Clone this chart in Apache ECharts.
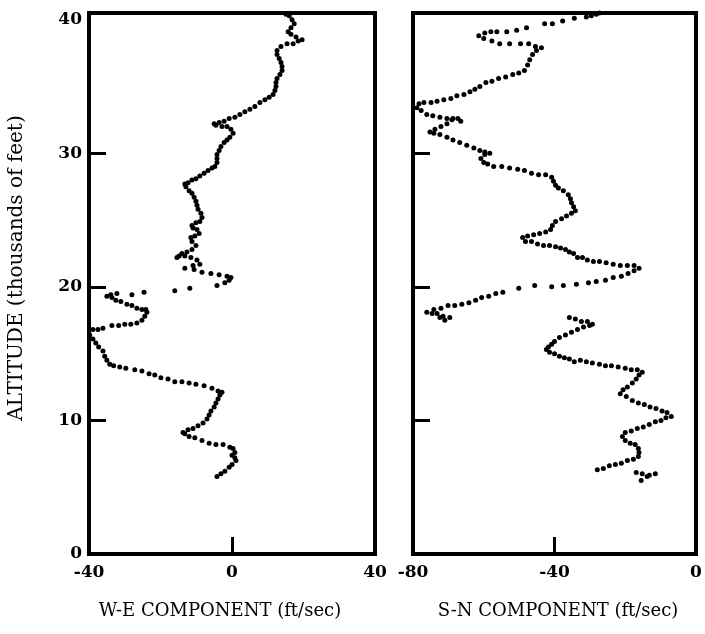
<!DOCTYPE html>
<html>
<head>
<meta charset="utf-8">
<script src="https://cdn.jsdelivr.net/npm/echarts@6/dist/echarts.min.js"></script>
<style>
  html, body { margin: 0; padding: 0; background: #fff; }
  #chart { width: 705px; height: 634px; }
</style>
</head>
<body>
<div id="chart"></div>
<script>
// Wind-component profiles: [component (ft/sec), altitude (thousands of feet)]
const weProfile = [
  [-4.2,5.8],[-3.1,6.0],[-2.0,6.2],[-0.8,6.5],[0.0,6.7],[1.1,7.0],[0.8,7.2],[0.0,7.4],[0.8,7.6],[0.3,7.9],[-0.6,8.0],
  [-2.5,8.2],[-4.5,8.2],[-6.4,8.3],[-8.4,8.5],[-10.4,8.7],[-12.0,8.8],[-13.2,9.0],[-13.7,9.1],
  [-12.3,9.3],[-10.9,9.4],[-9.5,9.6],[-8.1,9.8],[-7.0,10.1],[-6.4,10.4],[-5.9,10.7],[-5.0,11.0],[-4.5,11.3],[-3.9,11.6],[-3.4,11.9],[-2.8,12.1],
  [-3.9,12.2],[-5.6,12.4],[-7.8,12.6],[-10.1,12.7],[-12.0,12.8],[-14.0,12.9],[-16.0,12.9],[-17.9,13.1],[-19.9,13.2],[-21.6,13.4],[-23.2,13.5],[-25.2,13.7],[-27.2,13.8],
  [-29.7,13.9],[-31.4,14.0],[-33.1,14.1],[-34.2,14.2],[-35.0,14.5],[-35.6,14.8],[-36.1,15.2],[-37.3,15.5],[-38.1,15.8],[-38.9,16.1],[-39.8,16.4],[-40.1,16.6],
  [-38.9,16.8],[-37.5,16.8],[-36.1,16.9],[-33.6,17.1],[-31.7,17.1],[-30.0,17.2],[-28.3,17.2],[-26.6,17.3],[-25.2,17.5],[-24.4,17.8],[-23.8,18.1],
  [-24.1,18.3],[-25.2,18.3],[-26.6,18.4],[-28.0,18.6],[-29.4,18.7],[-31.1,18.9],[-32.5,19.0],[-33.6,19.2],[-35.0,19.3],
  [-33.9,19.4],[-32.2,19.5],[-28.0,19.4],[-24.6,19.6],[-16.0,19.7],[-11.8,19.9],[-4.2,20.1],[-2.0,20.3],[-0.8,20.5],[-0.3,20.7],
  [-1.4,20.8],[-3.6,20.9],[-5.9,21.0],[-8.4,21.1],[-10.6,21.3],[-13.2,21.4],
  [-10.9,21.6],[-9.0,21.7],[-9.8,22.0],[-11.5,22.2],[-13.2,22.3],[-14.8,22.3],[-15.4,22.2],[-14.0,22.5],[-12.6,22.6],[-11.2,22.8],[-10.1,23.1],
  [-11.2,23.4],[-11.5,23.7],[-10.4,23.8],[-9.2,24.0],[-9.8,24.3],[-10.9,24.4],[-11.2,24.6],[-10.1,24.8],[-9.0,24.9],[-8.4,25.2],[-8.7,25.5],
  [-9.5,25.8],[-9.8,26.1],[-10.1,26.4],[-10.6,26.7],[-11.2,27.0],[-12.0,27.2],[-12.9,27.5],[-13.2,27.7],[-12.3,27.8],[-11.2,28.0],[-10.1,28.1],
  [-9.0,28.3],[-7.8,28.5],[-6.7,28.7],[-5.6,28.9],[-4.8,29.0],[-4.2,29.3],[-4.2,29.6],[-4.2,29.9],[-3.6,30.2],[-3.1,30.5],[-2.2,30.8],[-1.4,31.0],
  [-0.6,31.2],[0.3,31.5],[-0.3,31.8],[-1.4,32.0],[-2.8,32.0],[-4.5,32.1],[-5.0,32.2],[-3.6,32.3],[-2.2,32.4],[-0.8,32.6],[0.8,32.7],[2.2,32.9],
  [3.6,33.1],[5.0,33.3],[6.4,33.5],[7.8,33.8],[9.2,34.0],[10.4,34.2],[11.5,34.4],[12.0,34.7],[12.3,35.0],[12.3,35.3],[12.6,35.6],[13.4,35.9],
  [14.0,36.2],[14.0,36.5],[13.7,36.8],[13.2,37.1],[12.6,37.4],[12.6,37.7],[13.7,38.0],[15.4,38.2],[17.1,38.2],[18.5,38.4],[19.6,38.5],
  [17.9,38.7],[16.5,38.9],[15.7,39.1],[16.5,39.4],[17.4,39.7],[16.8,40.0],[16.0,40.3],[15.1,40.4]
];

const snLower = [
  [-16.9,6.1],[-15.2,6.0],[-13.2,5.9],[-11.5,6.0],[-13.8,5.8],[-15.5,5.5],
  [-27.9,6.3],[-26.2,6.4],[-24.5,6.6],[-22.8,6.7],[-21.1,6.8],[-19.4,7.0],[-17.7,7.1],[-16.3,7.3],[-16.1,7.6],[-16.3,7.9],[-17.2,8.2],
  [-18.6,8.3],[-20.0,8.5],[-20.8,8.8],[-20.0,9.1],[-18.3,9.2],[-16.6,9.4],[-14.9,9.5],[-13.2,9.7],[-11.5,9.9],[-9.9,10.0],[-8.5,10.2],[-7.0,10.3],
  [-8.2,10.6],[-9.6,10.7],[-11.3,10.9],[-13.0,11.0],[-14.6,11.2],[-16.3,11.3],[-18.0,11.5],[-19.7,11.8],[-21.4,12.0],[-20.6,12.3],[-19.4,12.5],
  [-18.0,12.8],[-16.9,13.1],[-16.1,13.4],[-15.2,13.6],[-16.6,13.8],[-18.3,13.8],[-20.0,13.9],[-22.0,14.0],[-23.9,14.1],[-25.6,14.1],[-27.3,14.2],
  [-29.3,14.3],[-31.0,14.4],[-32.7,14.5],[-34.4,14.4],[-35.8,14.6],[-37.2,14.7],[-38.6,14.8],[-40.0,15.0],[-41.4,15.1],[-42.3,15.3],[-41.7,15.5],
  [-40.8,15.7],[-40.0,15.9],[-38.6,16.2],[-36.9,16.4],[-35.2,16.6],[-33.5,16.8],[-31.8,17.0],[-30.1,17.1],[-29.3,17.2],[-30.7,17.4],[-32.4,17.4],
  [-34.1,17.6],[-35.8,17.7]
];

const snUpper = [
  [-71.0,17.5],[-72.4,17.7],[-69.6,17.7],[-71.5,17.8],[-73.2,18.0],[-74.6,18.0],[-76.1,18.1],[-74.1,18.3],[-72.1,18.4],[-70.1,18.6],[-68.2,18.6],
  [-66.2,18.7],[-64.2,18.8],[-62.3,19.0],[-60.6,19.2],[-58.6,19.3],[-56.6,19.5],[-54.6,19.6],[-50.1,19.9],[-45.6,20.1],[-40.8,20.0],[-37.5,20.1],
  [-33.8,20.2],[-30.4,20.3],[-28.2,20.4],[-25.6,20.5],[-23.4,20.7],[-21.1,20.8],[-19.2,21.0],[-17.5,21.2],[-16.1,21.4],[-17.5,21.6],[-19.4,21.6],
  [-21.4,21.6],[-23.4,21.7],[-25.4,21.8],[-27.3,21.9],[-29.0,21.9],[-30.7,22.0],[-32.1,22.2],[-33.5,22.2],[-34.6,22.5],[-35.8,22.6],[-36.9,22.8],
  [-38.3,22.9],[-39.7,23.0],[-41.4,23.1],[-43.1,23.1],[-44.8,23.2],[-46.5,23.4],[-48.2,23.4],[-49.0,23.7],[-47.6,23.8],[-45.9,23.9],[-44.2,24.0],
  [-42.5,24.1],[-41.1,24.3],[-40.6,24.6],[-39.7,24.9],[-38.0,25.1],[-36.6,25.3],[-35.2,25.5],[-34.1,25.7],[-34.6,26.0],[-35.2,26.3],[-35.5,26.6],
  [-36.1,26.9],[-37.5,27.2],[-38.9,27.4],[-39.7,27.6],[-40.3,27.9],[-40.8,28.2],[-42.5,28.4],[-44.5,28.4],[-46.5,28.5],[-48.5,28.7],[-50.4,28.8],
  [-52.7,28.9],[-54.9,29.0],[-57.2,29.0],[-58.9,29.2],[-60.0,29.3],[-60.8,29.6],[-59.7,29.9],[-58.3,30.0],[-59.7,30.1],[-61.1,30.2],[-62.8,30.4],
  [-64.8,30.6],[-66.8,30.8],[-68.7,31.0],[-70.4,31.2],[-72.4,31.4],[-74.1,31.5],[-75.2,31.6],[-73.8,31.8],[-72.1,32.0],[-70.4,32.2],[-69.0,32.5],
  [-67.3,32.6],[-66.5,32.4],[-68.7,32.6],[-70.4,32.6],[-72.4,32.7],[-74.4,32.8],[-76.1,32.9],[-77.7,33.2],[-78.9,33.4],[-78.3,33.7],[-76.9,33.8],
  [-74.9,33.8],[-73.2,33.9],[-71.3,34.0],[-69.3,34.1],[-67.6,34.3],[-65.6,34.4],[-63.9,34.6],[-62.5,34.8],[-61.1,35.0],[-59.4,35.3],[-57.7,35.4],
  [-55.8,35.6],[-53.8,35.7],[-51.8,35.9],[-50.1,36.0],[-48.5,36.2],[-47.6,36.6],[-47.0,37.0],[-46.2,37.4],[-45.1,37.7],[-43.7,37.9],[-45.4,38.0],
  [-47.3,38.2],[-49.6,38.2],[-52.7,38.2],[-55.5,38.2],[-57.7,38.4],[-60.0,38.6],[-61.4,38.8],[-59.7,39.0],[-58.0,39.1],[-56.3,39.1],[-53.5,39.1],
  [-50.7,39.2],[-47.9,39.4],[-42.8,39.7],[-40.6,39.7],[-37.7,39.9],[-34.4,40.1],[-31.0,40.2],[-29.6,40.3],[-28.2,40.4],[-27.3,40.5]
];

// Axis tick values
const altitudeLabels = [0, 10, 20, 30, 40];
const altitudeTicks = [10, 20, 30];
const weLabels = [-40, 0, 40];
const weTicks = [0];
const snLabels = [-80, -40, 0];
const snTicks = [-40];

const SERIF = "'DejaVu Serif', 'Liberation Serif', serif";
const tickFont = { fontFamily: SERIF, fontSize: 17, fontWeight: 'bold', color: '#000' };

function xAxisFor(gridIndex, min, max, labels, ticks) {
  return {
    type: 'value', gridIndex, min, max, position: 'bottom',
    axisLine: { show: false, onZero: false },
    splitLine: { show: false },
    axisTick: { show: true, inside: true, length: 17, customValues: ticks,
      lineStyle: { color: '#000', width: 3 } },
    axisLabel: Object.assign({ customValues: labels, margin: 10 }, tickFont)
  };
}

function yAxisFor(gridIndex, showLabels) {
  return {
    type: 'value', gridIndex, min: 0, max: 40.5, position: 'left',
    axisLine: { show: false, onZero: false },
    splitLine: { show: false },
    axisTick: { show: true, inside: true, length: 17, customValues: altitudeTicks,
      lineStyle: { color: '#000', width: 3 } },
    axisLabel: Object.assign({ show: showLabels, customValues: altitudeLabels, margin: 7 }, tickFont)
  };
}

function dots(data, axisIndex) {
  return {
    type: 'scatter', xAxisIndex: axisIndex, yAxisIndex: axisIndex,
    data, symbol: 'circle', symbolSize: 5, silent: true,
    itemStyle: { color: '#000', opacity: 1 }
  };
}

const chart = echarts.init(document.getElementById('chart'), null, { renderer: 'canvas' });
chart.setOption({
  animation: false,
  backgroundColor: '#fff',
  grid: [
    { left: 89, top: 13, width: 286, height: 541, show: true, borderColor: '#000', borderWidth: 4, backgroundColor: 'transparent' },
    { left: 413, top: 13, width: 283, height: 541, show: true, borderColor: '#000', borderWidth: 4, backgroundColor: 'transparent' }
  ],
  xAxis: [
    xAxisFor(0, -40, 40, weLabels, weTicks),
    xAxisFor(1, -80, 0, snLabels, snTicks)
  ],
  yAxis: [yAxisFor(0, true), yAxisFor(1, false)],
  series: [
    dots(weProfile, 0),
    dots(snLower, 1),
    dots(snUpper, 1)
  ],
  graphic: [
    { type: 'text', x: 220, y: 611, style: { text: 'W-E COMPONENT (ft/sec)', fill: '#000',
      font: "18px " + SERIF, textAlign: 'center', textVerticalAlign: 'middle' } },
    { type: 'text', x: 558, y: 611, style: { text: 'S-N COMPONENT (ft/sec)', fill: '#000',
      font: "18px " + SERIF, textAlign: 'center', textVerticalAlign: 'middle' } },
    { type: 'text', x: 17, y: 268, rotation: Math.PI / 2, style: { text: 'ALTITUDE (thousands of feet)', fill: '#000',
      font: "20px " + SERIF, textAlign: 'center', textVerticalAlign: 'middle' } }
  ]
});
</script>
</body>
</html>
